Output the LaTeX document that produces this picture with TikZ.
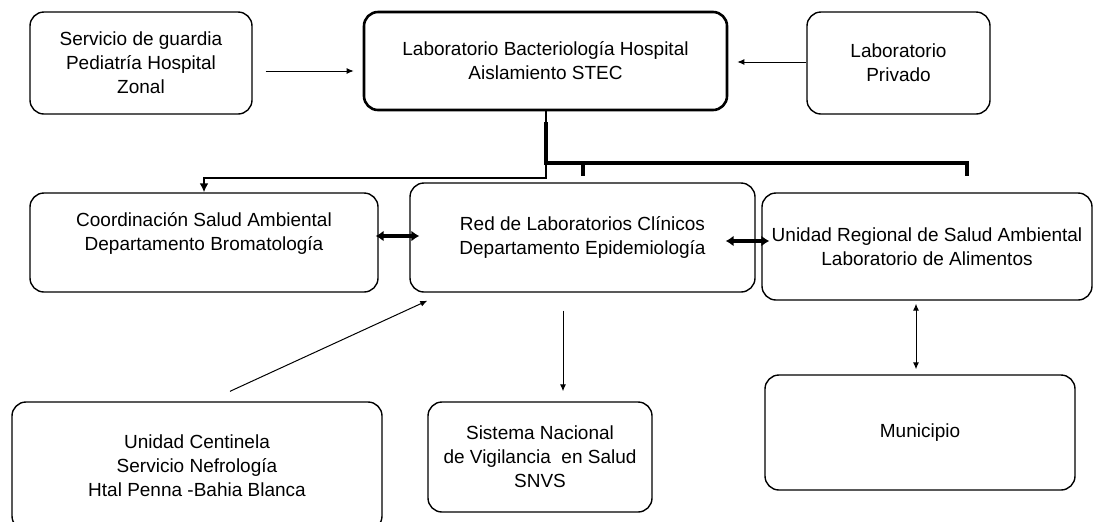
\documentclass[tikz,border=0pt]{standalone}
\usepackage{fontspec}
\setmainfont{Liberation Sans}
\usetikzlibrary{arrows.meta}

\begin{document}
\begin{tikzpicture}[x=0.5pt,y=-0.5pt,
	unit/.style={draw,line width=0.7pt,rounded corners=7pt,align=center,inner sep=2pt,font=\fontsize{9.5}{12}\selectfont},
	link/.style={line width=0.5pt,-{Latex[length=3.5pt,width=3pt]}},
	both/.style={line width=0.5pt,{Latex[length=3.5pt,width=3pt]}-{Latex[length=3.5pt,width=3pt]}},
	dbl/.style={line width=2pt,{Latex[length=4pt,width=5.5pt]}-{Latex[length=4pt,width=5.5pt]}},
	bus/.style={line width=2pt}]
	\useasboundingbox (0,0) rectangle (1096,521);
	\node[unit, minimum width=111pt, minimum height=51pt] (guard) at (141,63) {Servicio de guardia\\Pediatría Hospital\\Zonal};
	\node[unit, line width=1.3pt, minimum width=181.5pt, minimum height=49pt] (bact) at (545.5,61) {Laboratorio Bacteriología Hospital\\Aislamiento STEC};
	\node[unit, minimum width=91.5pt, minimum height=51pt] (priv) at (898.5,63) {Laboratorio\\Privado};
	\node[unit, minimum width=174pt, minimum height=49.5pt, text depth=11pt] (coord) at (204,242.5) {Coordinación Salud Ambiental\\Departamento Bromatología};
	\node[unit, minimum width=172.5pt, minimum height=54.5pt] (red) at (582.5,237.5) {Red de Laboratorios Clínicos\\Departamento Epidemiología};
	\node[unit, minimum width=165pt, minimum height=53.5pt] (ur) at (927,246.5) {Unidad Regional de Salud Ambiental\\Laboratorio de Alimentos};
	\node[unit, minimum width=185pt, minimum height=64pt] (cent) at (197,466) {Unidad Centinela\\Servicio Nefrología\\Htal Penna -Bahia Blanca};
	\node[unit, minimum width=112pt, minimum height=55pt] (snvs) at (540,457) {Sistema Nacional\\de Vigilancia \ en Salud\\SNVS};
	\node[unit, minimum width=155pt, minimum height=57.5pt] (muni) at (920,432.5) {Municipio};
	\coordinate (jn) at (545.5,163);
	\draw[link] ([xshift=6.5pt,yshift=-4pt]guard.east) -- ([xshift=-4.5pt,yshift=-5pt]bact.west);
	\draw[link] ([yshift=0.5pt]priv.west) -- ([xshift=4.5pt,yshift=-0.5pt]bact.east);
	\draw[line width=1pt,-{Latex[length=4.5pt,width=4.5pt]}] (bact.south) |- ([yshift=7pt]coord.north) -- (coord.north);
	\draw[bus] ([yshift=-5.5pt]bact.south) -- (jn) -| ([xshift=20pt,yshift=8pt]ur.north);
	\draw[bus] (red.north |- jn) -- ([yshift=3pt]red.north);
	\draw[dbl] ([xshift=-1.5pt,yshift=3.25pt]coord.east) -- ([xshift=5pt,yshift=0.75pt]red.west);
	\draw[dbl] ([xshift=-15pt,yshift=-1.75pt]red.east) -- ([xshift=4pt,yshift=2.75pt]ur.west);
	\draw[both] ([xshift=-5.5pt,yshift=-1.5pt]ur.south) -- ([xshift=-2pt,yshift=2.5pt]muni.north);
	\draw[link] ([xshift=-9.75pt,yshift=-9pt]red.south) -- ([xshift=11.5pt,yshift=5pt]snvs.north);
	\draw[link] ([xshift=16.5pt,yshift=5pt]cent.north) -- ([xshift=9pt,yshift=-4pt]red.south west);
\end{tikzpicture}
\end{document}
